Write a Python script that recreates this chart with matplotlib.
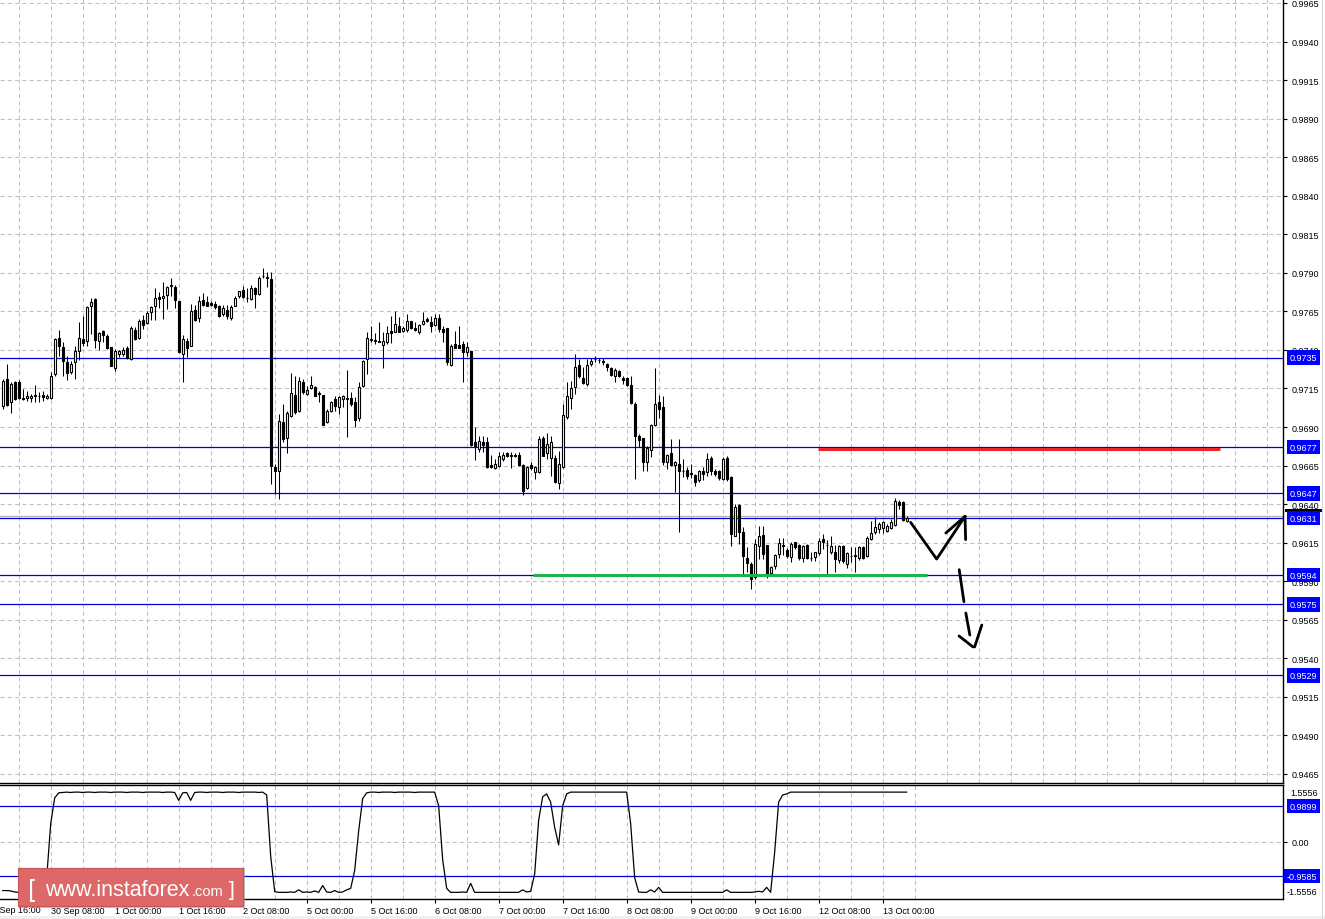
import matplotlib
matplotlib.use('Agg')
import matplotlib.pyplot as plt
from matplotlib.patches import Rectangle
from matplotlib.lines import Line2D
import numpy as np

# H1 bars, 29 Sep 20:00 .. 13 Oct 06:00 (bar index 0..226)
opens = [
    .97039, .97212, .97060, .97190, .97190, .97086, .97086, .97086, .97108, .97104,
    .97108, .97086, .97086, .97242, .97478, .97421, .97320, .97259, .97320, .97395,
    .97471, .97456, .97687, .97731, .97456, .97521, .97488, .97417, .97285, .97374,
    .97374, .97411, .97341, .97529, .97475, .97597, .97575, .97648, .97687, .97741,
    .97735, .97759, .97817, .97806, .97718, .97376, .97456, .97428, .97659, .97605,
    .97726, .97709, .97702, .97698, .97687, .97633, .97661, .97605, .97687, .97748,
    .97791, .97737, .97731, .97800, .97765, .97882, .97871, .97860, .96639, .96617,
    .96931, .96827, .96974, .97108, .97006, .97194, .97116, .97151, .97162, .97118,
    .97107, .96930, .97006, .97082, .97027, .97082, .97086, .97086, .97060, .96956,
    .97168, .97341, .97466, .97466, .97460, .97432, .97449, .97520, .97518, .97557,
    .97525, .97529, .97585, .97542, .97518, .97566, .97600, .97583, .97564, .97605,
    .97536, .97542, .97302, .97438, .97432, .97438, .97389, .97391, .96801, .96758,
    .96801, .96801, .96654, .96632, .96649, .96693, .96729, .96719, .96721, .96719,
    .96654, .96502, .96654, .96611, .96611, .96827, .96729, .96697, .96697, .96537,
    .96639, .96967, .97086, .97158, .97302, .97216, .97179, .97309, .97341, .97337,
    .97330, .97309, .97281, .97233, .97266, .97218, .97218, .97173, .97049, .96844,
    .96829, .96675, .96751, .96915, .97060, .97028, .96671, .96729, .96654, .96660,
    .96615, .96621, .96600, .96589, .96559, .96617, .96610, .96699, .96617, .96613,
    .96563, .96697, .96574, .96195, .96396, .96217, .96051, .96012, .95925, .96131,
    .96200, .96135, .95952, .95997, .96077, .96135, .96103, .96055, .96153, .96135,
    .96051, .96135, .96051, .96055, .96084, .96174, .96135, .96088, .96088, .96040,
    .96127, .96012, .96066, .96071, .96049, .96120, .96062, .96174, .96218, .96239,
    .96244, .96228, .96246, .96267, .96417, .96417, .96291,
]
highs = [
    .97212, .97309, .97194, .97201, .97207, .97147, .97132, .97114, .97173, .97125,
    .97134, .97114, .97255, .97478, .97532, .97454, .97359, .97331, .97424, .97584,
    .97618, .97687, .97737, .97735, .97519, .97532, .97501, .97421, .97406, .97402,
    .97417, .97428, .97558, .97547, .97601, .97627, .97655, .97687, .97800, .97774,
    .97843, .97817, .97865, .97821, .97720, .97497, .97475, .97698, .97692, .97752,
    .97769, .97748, .97720, .97720, .97692, .97692, .97692, .97692, .97752, .97785,
    .97817, .97800, .97821, .97811, .97878, .97929, .97904, .97908, .96660, .96985,
    .97050, .97006, .97248, .97233, .97222, .97211, .97168, .97229, .97168, .97136,
    .97110, .97017, .97071, .97099, .97103, .97107, .97270, .97125, .97092, .97190,
    .97334, .97514, .97557, .97510, .97583, .97514, .97557, .97622, .97654, .97611,
    .97557, .97633, .97585, .97579, .97568, .97648, .97611, .97622, .97633, .97633,
    .97557, .97542, .97438, .97525, .97557, .97460, .97449, .97395, .96898, .96844,
    .96844, .96833, .96719, .96693, .96736, .96736, .96736, .96736, .96729, .96740,
    .96660, .96649, .96675, .96649, .96844, .96844, .96859, .96844, .96719, .96747,
    .97049, .97190, .97201, .97374, .97341, .97287, .97341, .97346, .97359, .97346,
    .97346, .97315, .97287, .97281, .97272, .97229, .97222, .97233, .97060, .96855,
    .96829, .96779, .96920, .97281, .97108, .97103, .96725, .96822, .96682, .96822,
    .96693, .96639, .96660, .96595, .96623, .96639, .96729, .96714, .96628, .96623,
    .96703, .96714, .96580, .96401, .96401, .96250, .96124, .96022, .96174, .96260,
    .96257, .96135, .96001, .96077, .96179, .96179, .96114, .96153, .96157, .96142,
    .96135, .96142, .96088, .96092, .96179, .96207, .96170, .96192, .96135, .96135,
    .96135, .96092, .96120, .96120, .96127, .96127, .96196, .96293, .96315, .96282,
    .96293, .96272, .96304, .96438, .96427, .96423, .96326,
]
lows = [
    .97017, .97039, .96989, .97078, .97082, .97075, .97071, .97065, .97065, .97065,
    .97071, .97082, .97082, .97233, .97363, .97233, .97207, .97244, .97212, .97335,
    .97428, .97424, .97504, .97411, .97402, .97450, .97406, .97294, .97266, .97357,
    .97363, .97341, .97335, .97465, .97471, .97536, .97568, .97597, .97597, .97670,
    .97601, .97666, .97748, .97670, .97380, .97194, .97352, .97424, .97590, .97579,
    .97687, .97683, .97687, .97666, .97612, .97618, .97601, .97597, .97683, .97739,
    .97735, .97709, .97726, .97670, .97757, .97865, .97806, .96531, .96466, .96434,
    .96801, .96730, .96963, .96985, .96999, .97114, .97107, .97146, .97099, .97060,
    .96912, .96926, .96999, .97002, .96984, .97027, .96837, .97038, .96898, .96937,
    .97157, .97244, .97449, .97440, .97449, .97283, .97438, .97445, .97514, .97514,
    .97518, .97518, .97536, .97525, .97503, .97562, .97583, .97518, .97553, .97518,
    .97453, .97302, .97298, .97412, .97410, .97190, .97363, .96779, .96688, .96736,
    .96736, .96634, .96632, .96628, .96639, .96682, .96704, .96632, .96708, .96649,
    .96459, .96498, .96624, .96563, .96602, .96710, .96693, .96585, .96537, .96498,
    .96632, .96952, .97017, .97114, .97216, .97179, .97168, .97298, .97324, .97315,
    .97302, .97266, .97229, .97190, .97222, .97179, .97168, .97049, .96563, .96768,
    .96617, .96617, .96708, .96909, .96956, .96654, .96628, .96649, .96476, .96217,
    .96574, .96563, .96567, .96520, .96546, .96559, .96580, .96589, .96585, .96559,
    .96556, .96552, .96131, .96191, .96141, .95940, .95958, .95850, .95914, .96044,
    .96045, .95919, .95932, .95980, .96049, .96071, .96049, .96027, .96110, .96040,
    .96027, .96045, .96034, .96034, .96071, .96110, .95941, .96077, .95963, .96019,
    .96019, .95984, .96023, .95963, .96040, .96045, .96055, .96168, .96207, .96213,
    .96211, .96218, .96239, .96257, .96369, .96293, .96282,
]
closes = [
    .97197, .97045, .97179, .97082, .97086, .97082, .97104, .97104, .97099, .97101,
    .97097, .97104, .97233, .97471, .97428, .97326, .97248, .97307, .97395, .97475,
    .97445, .97677, .97713, .97465, .97508, .97497, .97411, .97298, .97393, .97393,
    .97398, .97346, .97540, .97471, .97588, .97564, .97638, .97677, .97735, .97731,
    .97748, .97806, .97821, .97726, .97389, .97471, .97415, .97651, .97597, .97715,
    .97694, .97687, .97694, .97677, .97618, .97670, .97618, .97677, .97735, .97780,
    .97741, .97735, .97802, .97761, .97865, .97880, .97869, .96650, .96617, .96937,
    .96823, .96991, .97119, .96996, .97197, .97129, .97142, .97172, .97103, .97116,
    .96915, .97006, .97064, .97038, .97092, .97103, .97084, .97049, .96947, .97157,
    .97330, .97475, .97466, .97460, .97449, .97456, .97510, .97507, .97568, .97518,
    .97542, .97585, .97540, .97531, .97562, .97585, .97587, .97557, .97605, .97536,
    .97514, .97319, .97427, .97412, .97412, .97384, .97417, .96783, .96779, .96807,
    .96783, .96639, .96639, .96660, .96710, .96719, .96710, .96714, .96710, .96654,
    .96487, .96639, .96632, .96639, .96822, .96714, .96790, .96805, .96546, .96660,
    .96978, .97103, .97151, .97287, .97229, .97186, .97302, .97326, .97339, .97333,
    .97320, .97287, .97237, .97270, .97229, .97207, .97175, .97056, .96844, .96818,
    .96671, .96762, .96913, .97049, .97017, .96675, .96719, .96654, .96675, .96617,
    .96613, .96580, .96598, .96546, .96617, .96595, .96693, .96617, .96595, .96567,
    .96693, .96563, .96206, .96379, .96217, .96061, .96018, .95914, .96141, .96195,
    .96077, .95937, .95991, .96071, .96148, .96127, .96062, .96142, .96120, .96051,
    .96127, .96049, .96049, .96088, .96159, .96153, .96133, .96127, .96045, .96127,
    .96034, .96084, .96064, .96062, .96120, .96049, .96181, .96213, .96250, .96272,
    .96282, .96261, .96282, .96419, .96395, .96300, .96308,
]
# oscillator in the lower window, one value per bar
osc = [
    -1.36, -1.36, -1.37, -1.40, -1.41, -1.41, -1.40, -1.41, -1.41, -1.40,
    -1.41, -1.00, 0.50, 1.22, 1.36, 1.37, 1.38, 1.37, 1.38, 1.38,
    1.37, 1.38, 1.38, 1.37, 1.38, 1.38, 1.38, 1.37, 1.38, 1.38,
    1.38, 1.37, 1.38, 1.38, 1.38, 1.37, 1.38, 1.38, 1.38, 1.38,
    1.37, 1.38, 1.38, 1.37, 1.15, 1.36, 1.37, 1.15, 1.37, 1.38,
    1.38, 1.37, 1.38, 1.38, 1.38, 1.37, 1.38, 1.38, 1.38, 1.37,
    1.38, 1.38, 1.38, 1.38, 1.37, 1.38, 1.30, -0.40, -1.39, -1.41,
    -1.41, -1.41, -1.40, -1.41, -1.34, -1.41, -1.40, -1.41, -1.37, -1.41,
    -1.22, -1.40, -1.41, -1.36, -1.41, -1.40, -1.34, -1.30, -0.80, 0.30,
    1.20, 1.36, 1.38, 1.38, 1.37, 1.38, 1.38, 1.38, 1.37, 1.38,
    1.38, 1.38, 1.38, 1.37, 1.38, 1.38, 1.38, 1.38, 1.38, 1.00,
    -0.50, -1.30, -1.41, -1.41, -1.41, -1.40, -1.41, -1.16, -1.41, -1.41,
    -1.41, -1.41, -1.41, -1.41, -1.41, -1.41, -1.41, -1.41, -1.41, -1.41,
    -1.34, -1.40, -1.38, -0.90, 0.60, 1.25, 1.33, 1.10, 0.40, -0.09,
    1.00, 1.33, 1.38, 1.38, 1.38, 1.38, 1.38, 1.38, 1.38, 1.38,
    1.38, 1.38, 1.38, 1.38, 1.38, 1.38, 1.38, 0.50, -1.00, -1.40,
    -1.41, -1.41, -1.34, -1.40, -1.27, -1.41, -1.41, -1.41, -1.41, -1.41,
    -1.41, -1.41, -1.41, -1.41, -1.41, -1.41, -1.41, -1.41, -1.41, -1.41,
    -1.41, -1.34, -1.41, -1.41, -1.41, -1.41, -1.41, -1.41, -1.40, -1.38,
    -1.40, -1.27, -1.41, -0.30, 1.10, 1.30, 1.33, 1.38, 1.38, 1.38,
    1.38, 1.38, 1.38, 1.38, 1.38, 1.38, 1.38, 1.38, 1.38, 1.38,
    1.38, 1.38, 1.38, 1.38, 1.38, 1.38, 1.38, 1.38, 1.38, 1.38,
    1.38, 1.38, 1.38, 1.38, 1.38, 1.38, 1.38,
]

date_labels = ['29 Sep 16:00', '30 Sep 08:00', '1 Oct 00:00', '1 Oct 16:00',
               '2 Oct 08:00', '5 Oct 00:00', '5 Oct 16:00', '6 Oct 08:00',
               '7 Oct 00:00', '7 Oct 16:00', '8 Oct 08:00', '9 Oct 00:00',
               '9 Oct 16:00', '12 Oct 08:00', '13 Oct 00:00']
first_label_bar = -4

levels = [0.9735, 0.9677, 0.9647, 0.9631, 0.9594, 0.9575, 0.9529]
bid = 0.96322
osc_levels = [0.9899, -0.9585]

# hand drawn marks (bar index, price)
red_line = ([203.8, 304.3], [0.96760, 0.96760])
green_line = ([132.6, 231.1], [0.95938, 0.95938])
arrow_up = ([227.0, 233.5, 240.6], [0.96282, 0.96044, 0.96321])
arrow_up_head = [([235.8, 240.6], [0.96213, 0.96321]), ([240.6, 240.75], [0.96321, 0.96170])]
arrow_down = [([239.15, 240.33], [0.95975, 0.95767]),
              ([240.8, 241.8], [0.95694, 0.95551]),
              ([239.1, 242.6], [0.95545, 0.95474]),
              ([244.8, 243.0], [0.95616, 0.95474])]

W, H = 1325, 920
BLUE = '#0000D8'
FONT = 'Liberation Sans'
plt.rcParams['font.family'] = [FONT, 'DejaVu Sans']

fig = plt.figure(figsize=(W / 100, H / 100), dpi=100)
fig.patch.set_facecolor('white')

def fx(px):
    return px / W

def fy(py):
    return 1 - py / H

ax = fig.add_axes([0, fy(784), fx(1283), 784 / H])
ax2 = fig.add_axes([0, fy(900), fx(1283), 114 / H])

xmin, xmax = -0.675, 320.1
ymin, ymax = 0.945916, 0.996759
grid_kw = dict(color='#C0C0C0', lw=0.75, ls=(0, (4, 3)))

# --- main window ---
o = np.array(opens); hi = np.array(highs); lo = np.array(lows); c = np.array(closes)
idx = np.arange(len(o))
up = c >= o
ax.vlines(idx, lo, hi, color='black', lw=0.75, zorder=3)
bot = np.minimum(o, c)
hgt = np.maximum(np.abs(c - o), 0.00002)
ax.bar(idx[up], hgt[up], bottom=bot[up], width=0.5, color='white',
       edgecolor='black', lw=0.8, zorder=4)
ax.bar(idx[~up], hgt[~up], bottom=bot[~up], width=0.5, color='black',
       edgecolor='black', lw=0.8, zorder=4)

for lv in levels:
    ax.axhline(lv, color=BLUE, lw=0.9, zorder=2)
ax.axhline(bid, color='#B4B4B4', lw=0.9, zorder=1.9)

ax.plot(*red_line, color='#E8262B', lw=2.2, solid_capstyle='butt', zorder=5)
ax.plot(*green_line, color='#22B14C', lw=2.2, solid_capstyle='butt', zorder=5)
ax.plot(*arrow_up, color='black', lw=2.0, zorder=6, solid_capstyle='round')
for xs, ys in arrow_up_head + arrow_down:
    ax.plot(xs, ys, color='black', lw=2.0, zorder=6, solid_capstyle='round')

yt = np.round(np.arange(0.9465, 0.99651, 0.0025), 4)
ax.set_yticks(yt)
ax.set_yticklabels([f'{v:.4f}' for v in yt])
ax.yaxis.tick_right()
ax.tick_params(axis='y', length=3, width=0.8, pad=3, labelsize=6.5, colors='black')
ax.set_xticks(np.arange(4, 321, 8))
ax.tick_params(axis='x', length=0, labelbottom=False)
ax.set_xlim(xmin, xmax)
ax.set_ylim(ymin, ymax)
ax.grid(True, **grid_kw)
ax.set_axisbelow(True)
for s in ['left', 'top']:
    ax.spines[s].set_visible(False)
for s in ['right', 'bottom']:
    ax.spines[s].set_linewidth(1.0)

ytr = ax.get_yaxis_transform()
px_price = (ymax - ymin) / 784
# edge of the hidden bid price label, just above the 0.9631 box
ax.add_patch(Rectangle((1285 / 1283, 0.9631 + 6.5 * px_price), 38 / 1283, 3 * px_price,
                       transform=ytr, fc='black', ec='none', clip_on=False, zorder=9))
for lv in levels:
    ax.text(1290 / 1283, lv, f'{lv:.4f}', transform=ytr, color='white', fontsize=6.5,
            va='center', ha='left', clip_on=False, zorder=10,
            bbox=dict(boxstyle='square,pad=0.3', fc='#0000FF', ec='none'))

# --- oscillator window ---
ax2.plot(idx, osc, color='black', lw=0.9, zorder=4)
for lv in osc_levels:
    ax2.axhline(lv, color=BLUE, lw=0.9, zorder=3)
ax2.set_yticks([0])
ax2.set_yticklabels(['0.00'])
ax2.yaxis.tick_right()
ax2.tick_params(axis='y', length=3, width=0.8, pad=3, labelsize=6.5)
label_bars = first_label_bar + 16 * np.arange(len(date_labels))
ax2.set_xticks(label_bars[1:])
ax2.set_xticklabels(date_labels[1:])
ax2.set_xticks(label_bars + 8, minor=True)
ax2.tick_params(axis='x', which='major', length=3, width=0.8, pad=2, labelsize=6.5)
ax2.tick_params(axis='x', which='minor', length=0)
for lbl in ax2.get_xticklabels():
    lbl.set_horizontalalignment('left')
# first label's tick is left of the window, only its tail shows (as in the terminal)
ax2.text(label_bars[0], -6.5 / 114, date_labels[0], transform=ax2.get_xaxis_transform(),
         fontsize=6.5, ha='left', va='top', clip_on=False)
ax2.set_xlim(xmin, xmax)
ax2.set_ylim(-1.595, 1.578)
ax2.grid(True, which='both', **grid_kw)
ax2.set_axisbelow(True)
ax2.spines['left'].set_visible(False)
for s in ['right', 'bottom', 'top']:
    ax2.spines[s].set_linewidth(1.0)

ytr2 = ax2.get_yaxis_transform()
ax2.text(1290 / 1283, 1.383, '1.5556', transform=ytr2, fontsize=6.5, va='center',
         ha='left', clip_on=False)
ax2.text(1287 / 1283, -1.40, '-1.5556', transform=ytr2, fontsize=6.5, va='center',
         ha='left', clip_on=False)
for lv in osc_levels:
    ax2.text(1290 / 1283 if lv > 0 else 1287 / 1283, lv, f'{lv:.4f}', transform=ytr2,
             color='white', fontsize=6.5, va='center', ha='left', clip_on=False, zorder=10,
             bbox=dict(boxstyle='square,pad=0.3', fc='#0000FF', ec='none'))

# frame bits of the terminal window
fig.add_artist(Rectangle((0, 0), 1, fy(917), transform=fig.transFigure,
                         fc='#F0F0F0', ec='none', zorder=0))
fig.add_artist(Line2D([fx(1322), fx(1322)], [fy(920), 1], transform=fig.transFigure,
                      color='#D8D8D8', lw=0.8))

# watermark
fig.add_artist(Rectangle((fx(20), fy(909)), fx(225), 40 / H, transform=fig.transFigure,
                         fc='#9A9A9A', ec='none', alpha=0.6, zorder=20))
fig.add_artist(Rectangle((fx(18), fy(907)), fx(225), 38 / H, transform=fig.transFigure,
                         fc='#DD6868', ec='#C85555', lw=0.8, zorder=21))
fig.text(fx(28), fy(897), '[', color='white', fontsize=17, ha='left', va='baseline',
         zorder=22, family='DejaVu Sans')
fig.text(fx(45), fy(896), 'www.instaforex', color='white', fontsize=15.5, ha='left',
         va='baseline', zorder=22)
fig.text(fx(192), fy(896), '.com', color='white', fontsize=10.5, ha='left',
         va='baseline', zorder=22)
fig.text(fx(227), fy(897), ']', color='white', fontsize=15, ha='left', va='baseline',
         zorder=22, family='DejaVu Sans')

fig.savefig('out.png', dpi=100, facecolor='white')
